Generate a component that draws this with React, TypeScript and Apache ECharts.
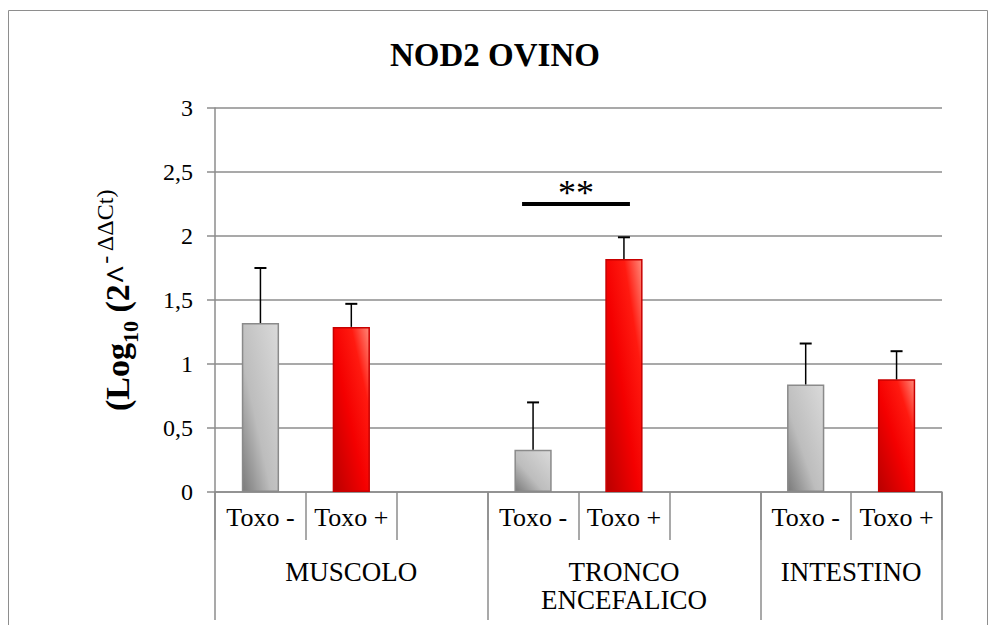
import React, { useEffect, useRef } from 'react';
import * as echarts from 'echarts';

// ---- data ----
const slotLabels = ['Toxo -', 'Toxo +', '', 'Toxo -', 'Toxo +', '', 'Toxo -', 'Toxo +'];
const groupNames = ['MUSCOLO', 'TRONCO\nENCEFALICO', 'INTESTINO'];
const groupSlotCounts = [3, 3, 2];
const meanValues: (number | null)[] = [1.32, 1.29, null, 0.33, 1.82, null, 0.84, 0.88];
const errorValues: (number | null)[] = [0.43, 0.18, null, 0.37, 0.17, null, 0.32, 0.22];
const yMin = 0;
const yMax = 3;
const yStep = 0.5;
const significancePairs = [[3, 4]];
const significanceLevel = 2.25;
const significanceMark = '**';
const chartTitle = 'NOD2 OVINO';

const FONT = '"Liberation Serif", "Times New Roman", serif';
const GRID_GRAY = '#8c8c8c';

export default function App() {
  const ref = useRef<HTMLDivElement>(null);

  useEffect(() => {
    if (!ref.current) return;
    const chart = echarts.init(ref.current, undefined, { renderer: 'svg' });

    const categoryIds = slotLabels.map((l, i) => `slot${i}`);

    const grayGrad = () =>
      new echarts.graphic.LinearGradient(0, 1, 1, 0, [
        { offset: 0, color: '#7a7a7a' },
        { offset: 0.4, color: '#bdbdbd' },
        { offset: 1, color: '#dadada' },
      ]);
    const redGrad = () =>
      new echarts.graphic.LinearGradient(0, 1, 1, 0, [
        { offset: 0, color: '#b80000' },
        { offset: 0.45, color: '#f40000' },
        { offset: 0.75, color: '#ff1a10' },
        { offset: 1, color: '#ff8a7a' },
      ]);

    const barData = meanValues.map((v, i) => {
      if (v == null) return '-';
      const plus = slotLabels[i].includes('+');
      return {
        value: v,
        itemStyle: {
          color: plus ? redGrad() : grayGrad(),
          borderColor: plus ? '#c80000' : '#8a8a8a',
          borderWidth: 1.5,
        },
      };
    });

    const errData: number[][] = [];
    meanValues.forEach((v, i) => {
      const e = errorValues[i];
      if (v != null && e != null) errData.push([i, v, v + e]);
    });

    const sigData = significancePairs.map((p) => [p[0], p[1], significanceLevel]);

    const bounds: number[] = [0];
    groupSlotCounts.forEach((c) => bounds.push(bounds[bounds.length - 1] + c));
    const centers = groupSlotCounts.map((c, i) => bounds[i] + c / 2);
    const totalSlots = bounds[bounds.length - 1];

    const option: any = {
      animation: false,
      backgroundColor: '#ffffff',
      title: {
        text: chartTitle,
        left: 385,
        top: 33,
        textStyle: { fontFamily: FONT, fontSize: 33, fontWeight: 'bold', color: '#000' },
      },
      graphic: [
        {
          type: 'rect',
          silent: true,
          z: -10,
          shape: { x: 8.5, y: 10.5, width: 979, height: 700 },
          style: { fill: 'none', stroke: '#8e8e8e', lineWidth: 1 },
        },
      ],
      grid: {
        left: 215,
        right: 56,
        top: 108,
        bottom: 133,
        containLabel: false,
        outerBoundsMode: 'none',
      },
      yAxis: {
        type: 'value',
        min: yMin,
        max: yMax,
        interval: yStep,
        axisLine: { show: true, lineStyle: { color: GRID_GRAY, width: 1.5 } },
        axisTick: { show: true, length: 8, lineStyle: { color: GRID_GRAY, width: 1.5 } },
        splitLine: { show: true, lineStyle: { color: GRID_GRAY, width: 1.5 } },
        axisLabel: {
          fontFamily: FONT,
          fontSize: 24,
          color: '#000',
          margin: 22,
          formatter: (v: number) => String(v).replace('.', ','),
        },
        name: '{b|(Log}{sub|10}{b| (2^}{sup|- ΔΔCt)}',
        nameLocation: 'middle',
        nameGap: 74,
        nameRotate: 90,
        nameTextStyle: {
          rich: {
            b: { fontFamily: FONT, fontSize: 34, fontWeight: 'bold', color: '#000', lineHeight: 48 },
            sub: { fontFamily: FONT, fontSize: 22, fontWeight: 'bold', color: '#000', lineHeight: 34, verticalAlign: 'bottom' },
            sup: { fontFamily: FONT, fontSize: 24, fontWeight: 'normal', color: '#000', lineHeight: 24, verticalAlign: 'top' },
          },
        },
      },
      xAxis: [
        {
          type: 'category',
          data: categoryIds,
          position: 'bottom',
          axisLine: { show: true, lineStyle: { color: GRID_GRAY, width: 1.5 } },
          axisTick: { show: true, interval: 0, length: 48, alignWithLabel: false, lineStyle: { color: GRID_GRAY, width: 1.5 } },
          splitLine: { show: false },
          axisLabel: {
            interval: 0,
            margin: 12,
            fontFamily: FONT,
            fontSize: 26,
            color: '#000',
            formatter: (_v: string, i: number) => slotLabels[i],
          },
        },
        {
          type: 'value',
          min: 0,
          max: totalSlots,
          position: 'bottom',
          axisLine: { show: false },
          splitLine: { show: false },
          axisTick: { show: true, customValues: bounds, length: 128, lineStyle: { color: GRID_GRAY, width: 1.5 } },
          axisLabel: {
            customValues: centers,
            margin: 66,
            fontFamily: FONT,
            fontSize: 27,
            lineHeight: 28,
            color: '#000',
            formatter: (v: number) => {
              const idx = centers.findIndex((c) => Math.abs(c - v) < 1e-6);
              return idx >= 0 ? groupNames[idx] : '';
            },
          },
        },
      ],
      series: [
        {
          type: 'bar',
          xAxisIndex: 0,
          yAxisIndex: 0,
          barWidth: '41%',
          data: barData,
          z: 2,
        },
        {
          type: 'custom',
          xAxisIndex: 0,
          yAxisIndex: 0,
          z: 3,
          encode: { x: 0, y: [1, 2] },
          data: errData,
          renderItem: (_params: any, api: any) => {
            const x = api.value(0);
            const base = api.coord([x, api.value(1)]);
            const top = api.coord([x, api.value(2)]);
            return {
              type: 'group',
              children: [
                {
                  type: 'line',
                  shape: { x1: base[0], y1: base[1], x2: top[0], y2: top[1] },
                  style: { stroke: '#000', lineWidth: 1.5 },
                },
                {
                  type: 'line',
                  shape: { x1: top[0] - 6, y1: top[1], x2: top[0] + 6, y2: top[1] },
                  style: { stroke: '#000', lineWidth: 2 },
                },
              ],
            };
          },
        },
        {
          type: 'custom',
          xAxisIndex: 0,
          yAxisIndex: 0,
          z: 4,
          encode: { x: [0, 1], y: 2 },
          data: sigData,
          renderItem: (_params: any, api: any) => {
            const p0 = api.coord([api.value(0), api.value(2)]);
            const p1 = api.coord([api.value(1), api.value(2)]);
            const xa = p0[0] - 11;
            const xb = p1[0] + 6;
            return {
              type: 'group',
              children: [
                {
                  type: 'line',
                  shape: { x1: xa, y1: p0[1], x2: xb, y2: p0[1] },
                  style: { stroke: '#000', lineWidth: 4 },
                },
                {
                  type: 'text',
                  x: (xa + xb) / 2,
                  y: p0[1] - 11,
                  style: {
                    text: significanceMark,
                    fontFamily: FONT,
                    fontSize: 36,
                    fontWeight: 'normal',
                    fill: '#000',
                    align: 'center',
                    verticalAlign: 'middle',
                  },
                },
              ],
            };
          },
        },
      ],
    };

    chart.setOption(option);
    return () => chart.dispose();
  }, []);

  return (
    <div
      ref={ref}
      style={{ position: 'fixed', left: 0, top: 0, width: 998, height: 625, background: '#fff' }}
    />
  );
}
